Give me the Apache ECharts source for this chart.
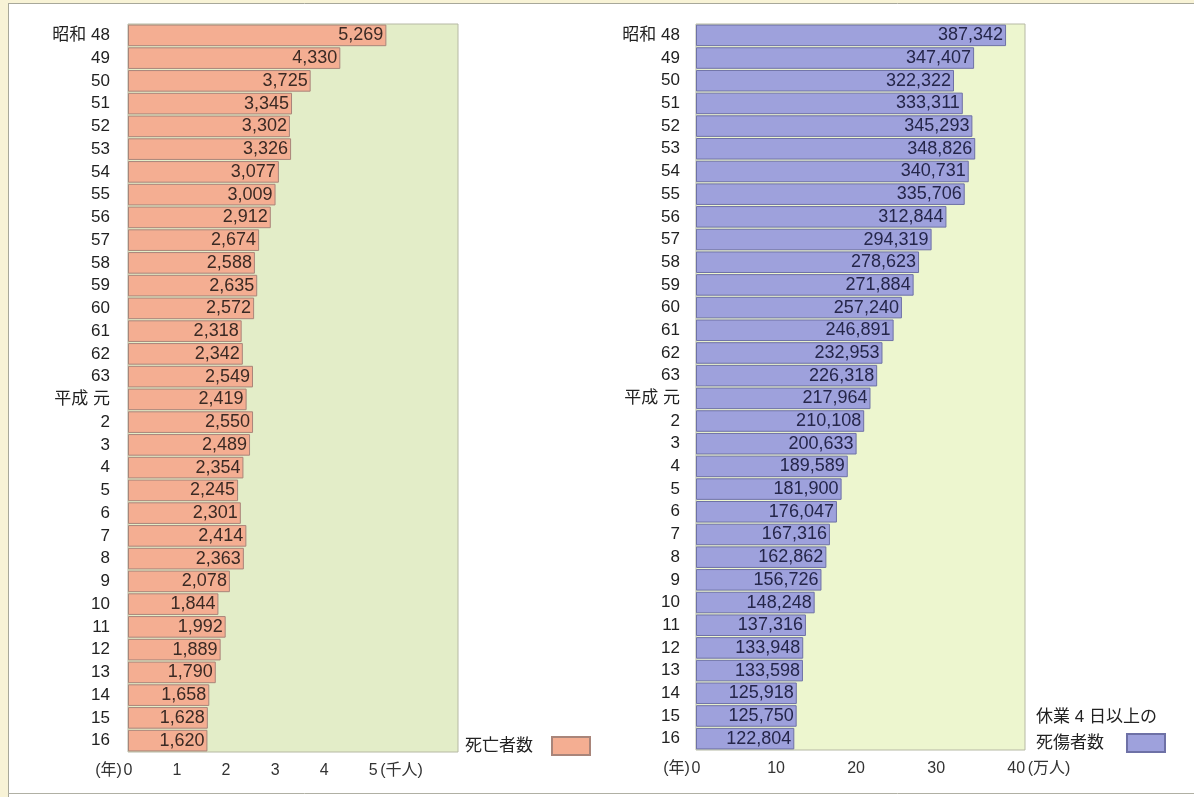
<!DOCTYPE html>
<html>
<head>
<meta charset="utf-8">
<script src="https://cdn.jsdelivr.net/npm/echarts@6/dist/echarts.min.js"></script>
<style>
  html, body { margin: 0; padding: 0; background: #ffffff; }
  #chart { width: 1194px; height: 797px; }
</style>
</head>
<body>
<div id="chart"></div>
<script>
// Year labels (昭和48年〜平成16年)
const years = ['昭和 48', '49', '50', '51', '52', '53', '54', '55', '56', '57', '58', '59', '60', '61', '62', '63',
  '平成 元', '2', '3', '4', '5', '6', '7', '8', '9', '10', '11', '12', '13', '14', '15', '16'];

// 死亡者数 (人)
const deaths = [5269, 4330, 3725, 3345, 3302, 3326, 3077, 3009, 2912, 2674, 2588, 2635, 2572, 2318, 2342, 2549,
  2419, 2550, 2489, 2354, 2245, 2301, 2414, 2363, 2078, 1844, 1992, 1889, 1790, 1658, 1628, 1620];

// 休業4日以上の死傷者数 (人)
const injuries = [387342, 347407, 322322, 333311, 345293, 348826, 340731, 335706, 312844, 294319, 278623, 271884,
  257240, 246891, 232953, 226318, 217964, 210108, 200633, 189589, 181900, 176047, 167316, 162862, 156726, 148248,
  137316, 133948, 133598, 125918, 125750, 122804];

// Axis tick labels
const deathTicks = ['0', '1', '2', '3', '4', '5'];
const injuryTicks = ['0', '10', '20', '30', '40'];

const FONT = '"Liberation Sans", "Noto Sans CJK JP", sans-serif';
const fmtNum = v => v.toLocaleString('en-US');

function tickFormatter(ticks, step, unit) {
  return function (value) {
    const i = Math.round(value / step);
    if (Math.abs(value - i * step) > 1e-6 || i >= ticks.length) return '';
    if (i === 0) return '{yr|(年)}' + ticks[0] + '{padL|}';
    if (i === ticks.length - 1) return '{padR|}' + ticks[i] + '{un|' + unit + '}';
    return ticks[i];
  };
}

const tickRich = {
  yr: { width: 30, align: 'right', fontSize: 16, color: '#333', fontFamily: FONT },
  padL: { width: 30 },
  un: { width: 48, align: 'left', fontSize: 16, color: '#333', fontFamily: FONT },
  padR: { width: 48 }
};

const chart = echarts.init(document.getElementById('chart'));

chart.setOption({
  animation: false,
  textStyle: { fontFamily: FONT },
  graphic: [
    { type: 'rect', z: -10, shape: { x: 0, y: 0, width: 8, height: 797 }, style: { fill: '#f8f3d6' } },
    { type: 'rect', z: -10, shape: { x: 0, y: 0, width: 1194, height: 3 }, style: { fill: '#f8f3d6' } },
    { type: 'line', z: -9, shape: { x1: 8.5, y1: 3, x2: 8.5, y2: 797 }, style: { stroke: '#a8a89a', lineWidth: 1 } },
    { type: 'line', z: -9, shape: { x1: 8, y1: 3.5, x2: 1194, y2: 3.5 }, style: { stroke: '#a8a89a', lineWidth: 1 } },
    { type: 'line', z: -9, shape: { x1: 8, y1: 793.5, x2: 1194, y2: 793.5 }, style: { stroke: '#b0b0a4', lineWidth: 1 } },
    // first line of the second legend caption
    { type: 'text', left: 1036, top: 709, style: { text: '休業 4 日以上の', fontSize: 17, fontFamily: FONT, fill: '#222' } }
  ],
  legend: [
    {
      data: ['死亡者数'],
      left: 460, top: 731,
      align: 'right',
      icon: 'rect',
      itemWidth: 38, itemHeight: 18,
      textStyle: { fontSize: 17, color: '#222', fontFamily: FONT, padding: [0, 14, 0, 0] }
    },
    {
      data: ['休業4日以上の死傷者数'],
      left: 1031, top: 728,
      align: 'right',
      icon: 'rect',
      itemWidth: 38, itemHeight: 18,
      formatter: () => '死傷者数',
      textStyle: { fontSize: 17, color: '#222', fontFamily: FONT, padding: [0, 18, 0, 0] }
    }
  ],
  grid: [
    { left: 128, top: 24, width: 330, height: 728, show: true, backgroundColor: '#e3edc8', borderColor: '#b6b9a4', borderWidth: 1 },
    { left: 696, top: 24, width: 329, height: 726, show: true, backgroundColor: '#edf6cf', borderColor: '#b6b9a4', borderWidth: 1 }
  ],
  xAxis: [
    {
      gridIndex: 0, type: 'value', min: 0, max: 6730, interval: 1000,
      axisLine: { show: false }, axisTick: { show: false }, splitLine: { show: false },
      axisLabel: { margin: 11, fontSize: 16, color: '#333', formatter: tickFormatter(deathTicks, 1000, '(千人)'), rich: tickRich, showMaxLabel: false }
    },
    {
      gridIndex: 1, type: 'value', min: 0, max: 411000, interval: 100000,
      axisLine: { show: false }, axisTick: { show: false }, splitLine: { show: false },
      axisLabel: { margin: 11, fontSize: 16, color: '#333', formatter: tickFormatter(injuryTicks, 100000, '(万人)'), rich: tickRich, showMaxLabel: false }
    }
  ],
  yAxis: [
    {
      gridIndex: 0, type: 'category', data: years, inverse: true,
      axisLine: { show: false }, axisTick: { show: false },
      axisLabel: { margin: 18, fontSize: 17, color: '#222', interval: 0 }
    },
    {
      gridIndex: 1, type: 'category', data: years, inverse: true,
      axisLine: { show: false }, axisTick: { show: false },
      axisLabel: { margin: 16, fontSize: 17, color: '#222', interval: 0 }
    }
  ],
  series: [
    {
      name: '死亡者数', type: 'bar', xAxisIndex: 0, yAxisIndex: 0,
      data: deaths, barCategoryGap: '5%',
      itemStyle: { color: '#f4ae92', borderColor: '#a9857a', borderWidth: 1 },
      label: { show: true, position: 'insideRight', distance: 3, fontSize: 18, color: '#3b2a24', formatter: p => fmtNum(p.value) }
    },
    {
      name: '休業4日以上の死傷者数', type: 'bar', xAxisIndex: 1, yAxisIndex: 1,
      data: injuries, barCategoryGap: '5%',
      itemStyle: { color: '#9ea1dc', borderColor: '#6e71a6', borderWidth: 1 },
      label: { show: true, position: 'insideRight', distance: 3, fontSize: 18, color: '#25264a', formatter: p => fmtNum(p.value) }
    }
  ]
});
</script>
</body>
</html>
